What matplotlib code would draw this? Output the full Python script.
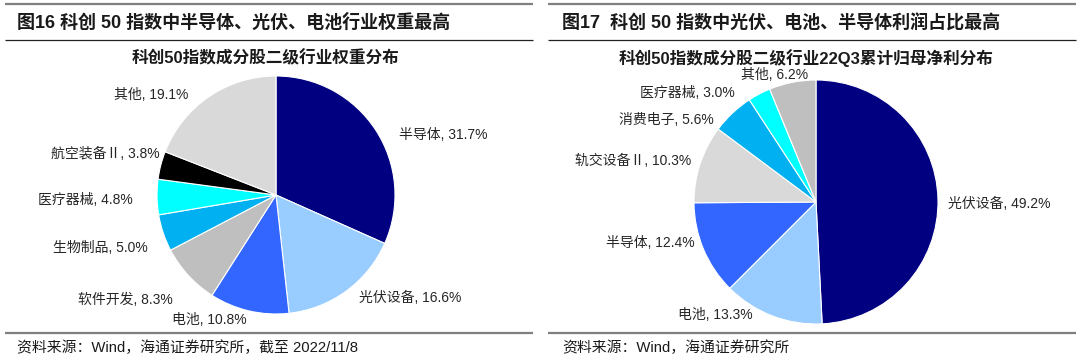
import matplotlib
matplotlib.use("Agg")
import matplotlib.pyplot as plt

plt.rcParams['font.family'] = ['Liberation Sans', 'Noto Sans CJK SC', 'DejaVu Sans']

# ---------------- data ----------------
left_title = "图16 科创 50 指数中半导体、光伏、电池行业权重最高"
left_subtitle = "科创50指数成分股二级行业权重分布"
left_labels = ["半导体", "光伏设备", "电池", "软件开发", "生物制品", "医疗器械", "航空装备Ⅱ", "其他"]
left_values = [31.7, 16.6, 10.8, 8.3, 5.0, 4.8, 3.8, 19.1]
left_source = "资料来源：Wind，海通证券研究所，截至 2022/11/8"

right_title = "图17  科创 50 指数中光伏、电池、半导体利润占比最高"
right_subtitle = "科创50指数成分股二级行业22Q3累计归母净利分布"
right_labels = ["光伏设备", "电池", "半导体", "轨交设备Ⅱ", "消费电子", "医疗器械", "其他"]
right_values = [49.2, 13.3, 12.4, 10.3, 5.6, 3.0, 6.2]
right_source = "资料来源：Wind，海通证券研究所"

# ---------------- style / layout ----------------
left_colors = ["#000080", "#99CCFF", "#3366FF", "#BFBFBF", "#00B0F0", "#00FFFF", "#000000", "#D9D9D9"]
right_colors = ["#000080", "#99CCFF", "#3366FF", "#D9D9D9", "#00B0F0", "#00FFFF", "#BFBFBF"]

W, H = 1080, 362
def Y(y):
    return H - y

# label anchors (pixel coords from top-left), alignment
left_label_pos = [(399, 135, 'left'), (359, 298, 'left'), (172, 320, 'left'),
                  (173, 300, 'right'), (148, 248, 'right'), (133, 200, 'right'),
                  (160, 154, 'right'), (188, 95, 'right')]
right_label_pos = [(948, 204, 'left'), (678, 315, 'left'), (695, 243, 'right'),
                   (691, 161, 'right'), (714, 120, 'right'), (735, 93, 'right'),
                   (808, 75, 'right')]

fig = plt.figure(figsize=(W / 100, H / 100), dpi=100)
ax = fig.add_axes([0, 0, 1, 1])

def draw_panel(x0, x1, title, title_x, subtitle, sub_cx, values, labels, colors,
               center, radius, label_pos, source, source_x):
    ax.pie(values, colors=colors, startangle=90, counterclock=False,
           center=(center[0], Y(center[1])), radius=radius,
           wedgeprops=dict(edgecolor='white', linewidth=0.8))
    # rules
    ax.plot([x0, x1], [Y(4), Y(4)], color='#7F7F7F', lw=1.6, solid_capstyle='butt')
    ax.plot([x0, x1], [Y(39.5), Y(39.5)], color='#222222', lw=0.9, solid_capstyle='butt')
    ax.plot([x0, x1], [Y(332.5), Y(332.5)], color='#7F7F7F', lw=1.6, solid_capstyle='butt')
    ax.text(title_x, Y(23), title, fontsize=13, fontweight='bold', color='#1a1a1a',
            ha='left', va='center')
    ax.text(sub_cx, Y(58), subtitle, fontsize=12, fontweight='bold', color='#1a1a1a',
            ha='center', va='center')
    for lab, v, (lx, ly, ha) in zip(labels, values, label_pos):
        ax.text(lx, Y(ly), f"{lab}, {v:.1f}%", fontsize=10, color='#262626',
                ha=ha, va='center')
    ax.text(source_x, Y(348), source, fontsize=10.7, color='#1a1a1a', ha='left', va='center')

draw_panel(5, 533, left_title, 17, left_subtitle, 265, left_values, left_labels,
           left_colors, (276, 195), 119, left_label_pos, left_source, 17)
draw_panel(548, 1076, right_title, 562, right_subtitle, 806, right_values, right_labels,
           right_colors, (816, 202), 122, right_label_pos, right_source, 562)

ax.set_xlim(0, W)
ax.set_ylim(0, H)
ax.set_aspect('equal')
ax.axis('off')

fig.savefig("out.png", dpi=100)
